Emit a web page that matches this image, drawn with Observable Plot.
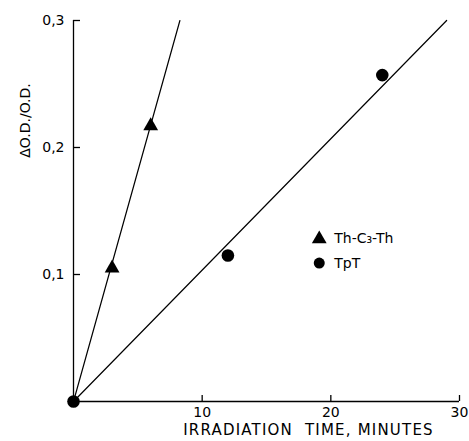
<!DOCTYPE html>
<html>
<head>
<meta charset="utf-8">
<script src="https://cdn.jsdelivr.net/npm/d3@7"></script>
<script src="https://cdn.jsdelivr.net/npm/@observablehq/plot@0.6"></script>
<style>
  html, body { margin: 0; padding: 0; background: #fff; }
  svg { font-family: "DejaVu Sans", "Liberation Sans", sans-serif; }
</style>
</head>
<body>
<div id="chart"></div>
<script>
// Data
const thc3thTime = [0, 3, 6];
const thc3thValue = [0, 0.105, 0.217];
const tptTime = [0, 12, 24];
const tptValue = [0, 0.115, 0.257];
// fitted straight lines drawn in the figure (endpoints)
const thc3thLineTime = [0, 8.27];
const thc3thLineValue = [0, 0.3];
const tptLineTime = [0, 29.0];
const tptLineValue = [0, 0.3];
// tick values and labels
const xTicks = [10, 20, 30];
const xTickLabels = ["10", "20", "30"];
const yTicks = [0.1, 0.2, 0.3];
const yTickLabels = ["0,1", "0,2", "0,3"];
// legend
const legendLabels = ["Th-C\u2083-Th", "TpT"];
const legendSymbols = ["triangle", "circle"];
const legendX = [19.1, 19.1];
const legendY = [0.128, 0.109];

const zip = (xs, ys) => xs.map((x, i) => ({x, y: ys[i]}));
const thPts = zip(thc3thTime, thc3thValue);
const tpPts = zip(tptTime, tptValue);
const thLine = zip(thc3thLineTime, thc3thLineValue);
const tpLine = zip(tptLineTime, tptLineValue);
const legend = legendLabels.map((label, i) => ({label, symbol: legendSymbols[i], x: legendX[i], y: legendY[i]}));

const chart = Plot.plot({
  width: 469,
  height: 441,
  marginLeft: 73,
  marginRight: 10,
  marginTop: 20,
  marginBottom: 40,
  style: {fontFamily: "DejaVu Sans, Liberation Sans, sans-serif", background: "#fff", color: "#000"},
  x: {domain: [0, 30]},
  y: {domain: [0, 0.3]},
  marks: [
    Plot.ruleX([0], {y1: 0, y2: 0.3, stroke: "#000", strokeWidth: 1.3}),
    Plot.ruleY([0], {x1: 0, x2: 30, stroke: "#000", strokeWidth: 1.3}),
    Plot.axisX({ticks: xTicks, tickFormat: (d) => xTickLabels[xTicks.indexOf(d)], tickSize: -6, tickPadding: 12, fontSize: 14, label: null, stroke: "#000", strokeWidth: 1.3}),
    Plot.axisY({ticks: yTicks, tickFormat: (d) => yTickLabels[yTicks.indexOf(d)], tickSize: -7, tickPadding: 16, fontSize: 14, label: null, stroke: "#000", strokeWidth: 1.3}),
    Plot.line(thLine, {x: "x", y: "y", stroke: "#000", strokeWidth: 1.2}),
    Plot.line(tpLine, {x: "x", y: "y", stroke: "#000", strokeWidth: 1.2}),
    Plot.dot(thPts.slice(1), {x: "x", y: "y", symbol: "triangle", r: 5.5, fill: "#000", stroke: "none"}),
    Plot.dot(tpPts, {x: "x", y: "y", symbol: "circle", r: 6.3, fill: "#000", stroke: "none"}),
    Plot.dot(legend, {x: "x", y: "y", symbol: "symbol", r: 5.5, fill: "#000", stroke: "none"}),
    Plot.text(legend, {x: "x", y: "y", text: "label", textAnchor: "start", dx: 15, fontSize: 14, fill: "#000"}),
    Plot.text(["IRRADIATION  TIME, MINUTES"], {frameAnchor: "bottom", dx: 42, dy: 33, fontSize: 15, fill: "#000", text: (d) => d, className: "xlabel"}),
    Plot.text(["\u0394O.D./O.D."], {frameAnchor: "top-left", textAnchor: "middle", dx: -53, dy: 100, rotate: -90, fontSize: 14, fill: "#000", text: (d) => d})
  ]
});
d3.select(chart).selectAll(".xlabel text").attr("letter-spacing", "1.2px");
document.getElementById("chart").appendChild(chart);
</script>
</body>
</html>
